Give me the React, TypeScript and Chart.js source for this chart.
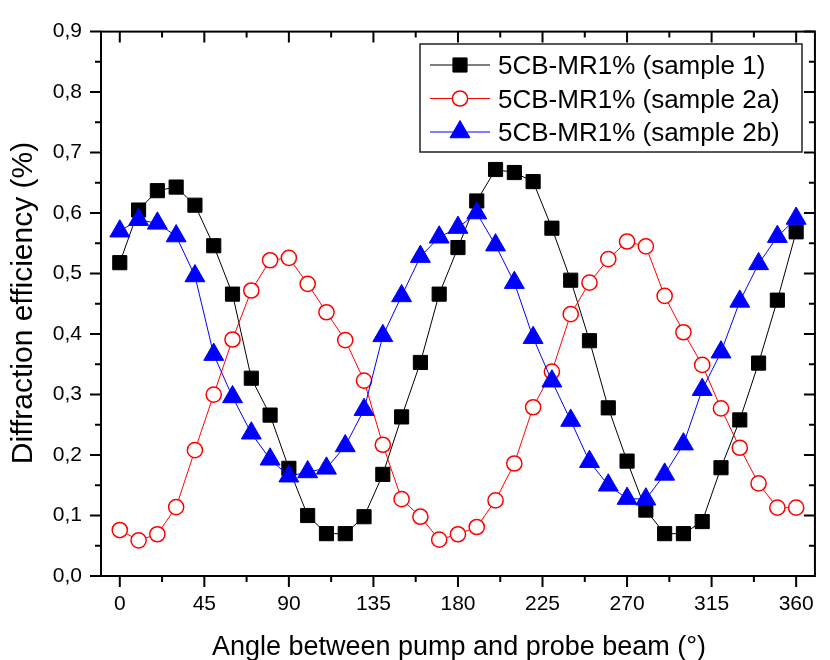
import React, { useEffect, useRef } from "react";
import { Chart, registerables } from "chart.js";

Chart.register(...registerables);

const angles = [0, 10, 20, 30, 40, 50, 60, 70, 80, 90, 100, 110, 120, 130, 140, 150, 160, 170, 180, 190, 200, 210, 220, 230, 240, 250, 260, 270, 280, 290, 300, 310, 320, 330, 340, 350, 360];
const sample1 = [0.518, 0.605, 0.637, 0.643, 0.613, 0.546, 0.466, 0.327, 0.266, 0.178, 0.100, 0.070, 0.070, 0.098, 0.168, 0.263, 0.353, 0.466, 0.543, 0.620, 0.672, 0.667, 0.652, 0.575, 0.489, 0.389, 0.278, 0.190, 0.109, 0.070, 0.070, 0.090, 0.179, 0.258, 0.352, 0.456, 0.569];
const sample2a = [0.076, 0.059, 0.069, 0.114, 0.208, 0.300, 0.391, 0.472, 0.522, 0.526, 0.483, 0.436, 0.390, 0.323, 0.217, 0.127, 0.098, 0.060, 0.069, 0.081, 0.125, 0.186, 0.279, 0.338, 0.433, 0.485, 0.524, 0.553, 0.545, 0.463, 0.403, 0.349, 0.277, 0.212, 0.153, 0.113, 0.113];
const sample2b = [0.570, 0.589, 0.583, 0.562, 0.496, 0.366, 0.296, 0.236, 0.193, 0.165, 0.172, 0.178, 0.215, 0.275, 0.397, 0.463, 0.528, 0.560, 0.576, 0.600, 0.547, 0.485, 0.394, 0.322, 0.257, 0.189, 0.150, 0.128, 0.127, 0.168, 0.218, 0.308, 0.370, 0.454, 0.516, 0.561, 0.591];

const seriesLabels = ["5CB-MR1% (sample 1)", "5CB-MR1% (sample 2a)", "5CB-MR1% (sample 2b)"];
const xTicks = [0, 45, 90, 135, 180, 225, 270, 315, 360];
const yTicks = [0, 0.1, 0.2, 0.3, 0.4, 0.5, 0.6, 0.7, 0.8, 0.9];
const xTitle = "Angle between pump and probe beam (°)";
const yTitle = "Diffraction efficiency (%)";

const FONT = 'Arial, "Liberation Sans", sans-serif';

function drawMarker(ctx: CanvasRenderingContext2D, style: string, x: number, y: number, r: number, fill: string, stroke: string, lw: number) {
  ctx.save();
  ctx.beginPath();
  if (style === "rect") {
    const h = r * Math.SQRT1_2;
    ctx.rect(x - h, y - h, 2 * h, 2 * h);
  } else if (style === "circle") {
    ctx.arc(x, y, r, 0, Math.PI * 2);
  } else {
    let rad = 0;
    ctx.moveTo(x + Math.sin(rad) * r, y - Math.cos(rad) * r);
    rad += (2 * Math.PI) / 3;
    ctx.lineTo(x + Math.sin(rad) * r, y - Math.cos(rad) * r);
    rad += (2 * Math.PI) / 3;
    ctx.lineTo(x + Math.sin(rad) * r, y - Math.cos(rad) * r);
    ctx.closePath();
  }
  ctx.fillStyle = fill;
  ctx.fill();
  ctx.lineWidth = lw;
  ctx.strokeStyle = stroke;
  ctx.stroke();
  ctx.restore();
}

const decorPlugin = {
  id: "decor",
  afterDraw(chart: any) {
    const { ctx, chartArea: a, scales } = chart;
    const xs = scales.x;
    const ys = scales.y;
    ctx.save();
    ctx.strokeStyle = "#000";
    ctx.lineWidth = 2;
    ctx.strokeRect(a.left, a.top, a.right - a.left, a.bottom - a.top);

    const major = 11;
    const minor = 6;
    const xMinor: number[] = [];
    for (let i = 0; i < xTicks.length - 1; i++) xMinor.push((xTicks[i] + xTicks[i + 1]) / 2);
    const yMinor: number[] = [];
    for (let i = 0; i < yTicks.length - 1; i++) yMinor.push((yTicks[i] + yTicks[i + 1]) / 2);

    ctx.beginPath();
    const xt = (v: number, len: number) => {
      const p = xs.getPixelForValue(v);
      ctx.moveTo(p, a.bottom);
      ctx.lineTo(p, a.bottom + len);
      ctx.moveTo(p, a.top);
      ctx.lineTo(p, a.top + len);
    };
    const yt = (v: number, len: number) => {
      const p = ys.getPixelForValue(v);
      ctx.moveTo(a.left, p);
      ctx.lineTo(a.left - len, p);
      ctx.moveTo(a.right, p);
      ctx.lineTo(a.right - len, p);
    };
    xTicks.forEach((v) => xt(v, major));
    xMinor.forEach((v) => xt(v, minor));
    yTicks.forEach((v) => yt(v, major));
    yMinor.forEach((v) => yt(v, minor));
    ctx.stroke();

    // axis titles
    ctx.fillStyle = "#000";
    ctx.font = `27px ${FONT}`;
    ctx.textAlign = "center";
    ctx.textBaseline = "alphabetic";
    ctx.fillText(xTitle, (a.left + a.right) / 2 + 1, 655);

    ctx.save();
    ctx.translate(32, 303);
    ctx.rotate(-Math.PI / 2);
    ctx.font = `30px ${FONT}`;
    ctx.fillText(yTitle, 0, 0);
    ctx.restore();

    // legend
    const bx = 420, by = 44, bw = 382, bh = 108;
    ctx.fillStyle = "#fff";
    ctx.fillRect(bx, by, bw, bh);
    ctx.strokeStyle = "#222";
    ctx.lineWidth = 1.5;
    ctx.strokeRect(bx, by, bw, bh);
    const rows = [65, 98.5, 132];
    chart.data.datasets.forEach((ds: any, i: number) => {
      const cy = rows[i];
      ctx.beginPath();
      ctx.strokeStyle = ds.borderColor;
      ctx.lineWidth = 1;
      ctx.moveTo(430, cy);
      ctx.lineTo(490, cy);
      ctx.stroke();
      drawMarker(ctx, ds.pointStyle, 460, cy, ds.pointRadius, ds.pointBackgroundColor, ds.pointBorderColor, ds.pointBorderWidth);
      ctx.fillStyle = "#000";
      ctx.font = `26px ${FONT}`;
      ctx.textAlign = "left";
      ctx.textBaseline = "alphabetic";
      ctx.fillText(ds.label, 498, cy + 9);
    });
    ctx.restore();
  },
};

export default function App() {
  const ref = useRef<HTMLCanvasElement | null>(null);
  useEffect(() => {
    if (!ref.current) return;
    const toPts = (vals: number[]) => vals.map((v, i) => ({ x: angles[i], y: v }));
    const chart = new Chart(ref.current, {
      type: "line",
      data: {
        datasets: [
          {
            label: seriesLabels[0],
            data: toPts(sample1),
            borderColor: "#000000",
            borderWidth: 1,
            pointStyle: "rect",
            pointRadius: 10,
            pointBackgroundColor: "#000000",
            pointBorderColor: "#000000",
            pointBorderWidth: 1,
            order: 3,
          },
          {
            label: seriesLabels[1],
            data: toPts(sample2a),
            borderColor: "#ff0000",
            borderWidth: 1,
            pointStyle: "circle",
            pointRadius: 7.6,
            pointBackgroundColor: "#ffffff",
            pointBorderColor: "#ff0000",
            pointBorderWidth: 1.5,
            order: 2,
          },
          {
            label: seriesLabels[2],
            data: toPts(sample2b),
            borderColor: "#0000ff",
            borderWidth: 1,
            pointStyle: "triangle",
            pointRadius: 11.5,
            pointBackgroundColor: "#0000ff",
            pointBorderColor: "#0000ff",
            pointBorderWidth: 1,
            order: 1,
          },
        ] as any,
      },
      options: {
        animation: false,
        responsive: false,
        devicePixelRatio: 1,
        layout: { padding: { left: 0, top: 23, right: 2, bottom: 0 } },
        plugins: { legend: { display: false }, tooltip: { enabled: false } },
        elements: { line: { tension: 0 } },
        scales: {
          x: {
            type: "linear",
            min: -10,
            max: 370,
            grid: { display: false, drawTicks: false },
            border: { display: false },
            afterBuildTicks: (s: any) => {
              s.ticks = xTicks.map((v) => ({ value: v }));
            },
            afterFit: (s: any) => {
              s.height = 84;
            },
            ticks: {
              autoSkip: false,
              maxRotation: 0,
              padding: 16,
              color: "#000",
              font: { family: FONT, size: 21 },
              callback: (v: any) => String(v),
            },
          },
          y: {
            type: "linear",
            min: 0,
            max: 0.9,
            grid: { display: false, drawTicks: false },
            border: { display: false },
            afterBuildTicks: (s: any) => {
              s.ticks = yTicks.map((v) => ({ value: v }));
            },
            afterFit: (s: any) => {
              s.width = 101;
            },
            ticks: {
              autoSkip: false,
              padding: 19,
              color: "#000",
              font: { family: FONT, size: 21 },
              callback: (v: any) => Number(v).toFixed(1).replace(".", ","),
            },
          },
        },
      } as any,
      plugins: [decorPlugin],
    });
    return () => chart.destroy();
  }, []);
  return (
    <div style={{ position: "absolute", left: 0, top: 0, width: 830, height: 660, background: "#fff" }}>
      <canvas ref={ref} width={830} height={660} style={{ display: "block" }} />
    </div>
  );
}
